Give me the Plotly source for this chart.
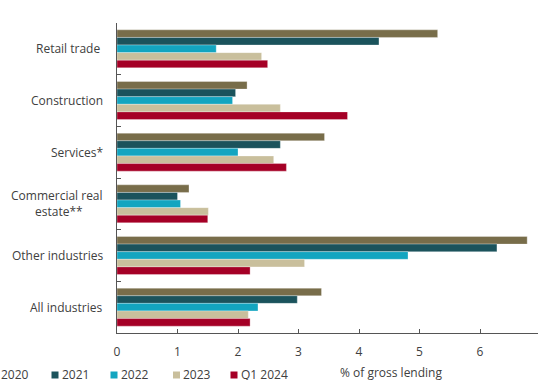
import plotly.graph_objects as go

# Categories (top to bottom) and series values, % of gross lending
categories = ["Retail trade\u00a0", "Construction", "Services*",
              "Commercial real<br>estate**", "Other industries", "All industries"]
series_names = ["2020", "2021", "2022", "2023", "Q1 2024"]
v2020 = [5.30, 2.15, 3.43, 1.19, 6.78, 3.38]
v2021 = [4.33, 1.96, 2.70, 1.00, 6.28, 2.98]
v2022 = [1.64, 1.91, 2.00, 1.05, 4.81, 2.33]
v2023 = [2.39, 2.70, 2.59, 1.51, 3.10, 2.17]
vq1_2024 = [2.49, 3.81, 2.80, 1.50, 2.20, 2.20]
x_ticks = [0, 1, 2, 3, 4, 5, 6, 7]

series_values = [v2020, v2021, v2022, v2023, vq1_2024]
colors = ["#786d4a", "#1b535c", "#13a5c0", "#c9bf9c", "#a50026"]

W, H = 538, 380
ML, MR, MT, MB = 117, 0, 23, 47
PW, PH = W - ML - MR, H - MT - MB
FONT = "Open Sans"
TXT = "#404040"
LABEL_GAP = 12      # px between label right edge and the axis
LINE_STEP = 16      # px between lines of a wrapped label


def px_x(px):
    return (px - ML) / PW


def px_y(py):
    return (H - MB - py) / PH


fig = go.Figure()
for name, vals, col in zip(series_names, series_values, colors):
    fig.add_trace(go.Bar(
        y=categories, x=vals, name=name, orientation="h",
        marker=dict(color=col, line=dict(color="rgba(255,255,255,0.5)", width=0.6)),
        showlegend=False,
    ))

annotations = []
label_font = dict(family=FONT, size=12, color=TXT)
# category labels: right-aligned to the axis; wrapped labels are centred
# under their first (widest) line
for cat in categories:
    lines = cat.split("<br>")
    if len(lines) == 1:
        annotations.append(dict(
            x=0, xref="paper", y=cat, yref="y", xanchor="right", yanchor="middle",
            xshift=-LABEL_GAP, text=cat, showarrow=False, font=label_font,
        ))
        continue
    first_w = 93  # rendered width of the first line, px
    n = len(lines)
    for i, line in enumerate(lines):
        yshift = ((n - 1) / 2 - i) * LINE_STEP
        if i == 0:
            annotations.append(dict(
                x=0, xref="paper", y=cat, yref="y", xanchor="right",
                yanchor="middle", xshift=-LABEL_GAP, yshift=yshift,
                text=line, showarrow=False, font=label_font,
            ))
        else:
            annotations.append(dict(
                x=0, xref="paper", y=cat, yref="y", xanchor="center",
                yanchor="middle", xshift=-LABEL_GAP - first_w / 2, yshift=yshift,
                text=line, showarrow=False, font=label_font,
            ))

# legend row along the bottom
shapes = []
legend_marker_px = [-9.5, 51.5, 110.5, 173.0, 230.5]
ly = 375
for name, col, mx in zip(series_names, colors, legend_marker_px):
    shapes.append(dict(
        type="rect", xref="paper", yref="paper",
        x0=px_x(mx), x1=px_x(mx + 7), y0=px_y(ly + 3.5), y1=px_y(ly - 3.5),
        fillcolor=col, line=dict(width=0),
    ))
    annotations.append(dict(
        x=px_x(mx + 8), xref="paper", y=px_y(ly - 0.5), yref="paper",
        xanchor="left", yanchor="middle", text=name, showarrow=False,
        font=label_font,
    ))

annotations.append(dict(
    x=px_x(338), xref="paper", y=px_y(373), yref="paper",
    xanchor="left", yanchor="middle", text="% of gross lending", showarrow=False,
    font=label_font,
))

fig.update_layout(
    width=W, height=H,
    margin=dict(l=ML, r=MR, t=MT, b=MB),
    paper_bgcolor="white", plot_bgcolor="white",
    barmode="group", bargap=0.265, bargroupgap=0,
    font=dict(family=FONT, size=12, color=TXT),
    annotations=annotations, shapes=shapes,
)
fig.update_xaxes(
    range=[0, PW / 60.5], tickvals=x_ticks,
    showline=True, linecolor="#555555", linewidth=1,
    ticks="inside", ticklen=4, tickcolor="#555555", ticklabelstandoff=8,
    showgrid=False, zeroline=False,
    tickfont=dict(family=FONT, size=12, color=TXT),
)
fig.update_yaxes(
    autorange="reversed", type="category",
    showline=True, linecolor="#555555", linewidth=1,
    ticks="inside", ticklen=4, tickcolor="#555555", tickson="boundaries",
    showticklabels=False, showgrid=False, zeroline=False,
)

fig.write_html("out.html")
